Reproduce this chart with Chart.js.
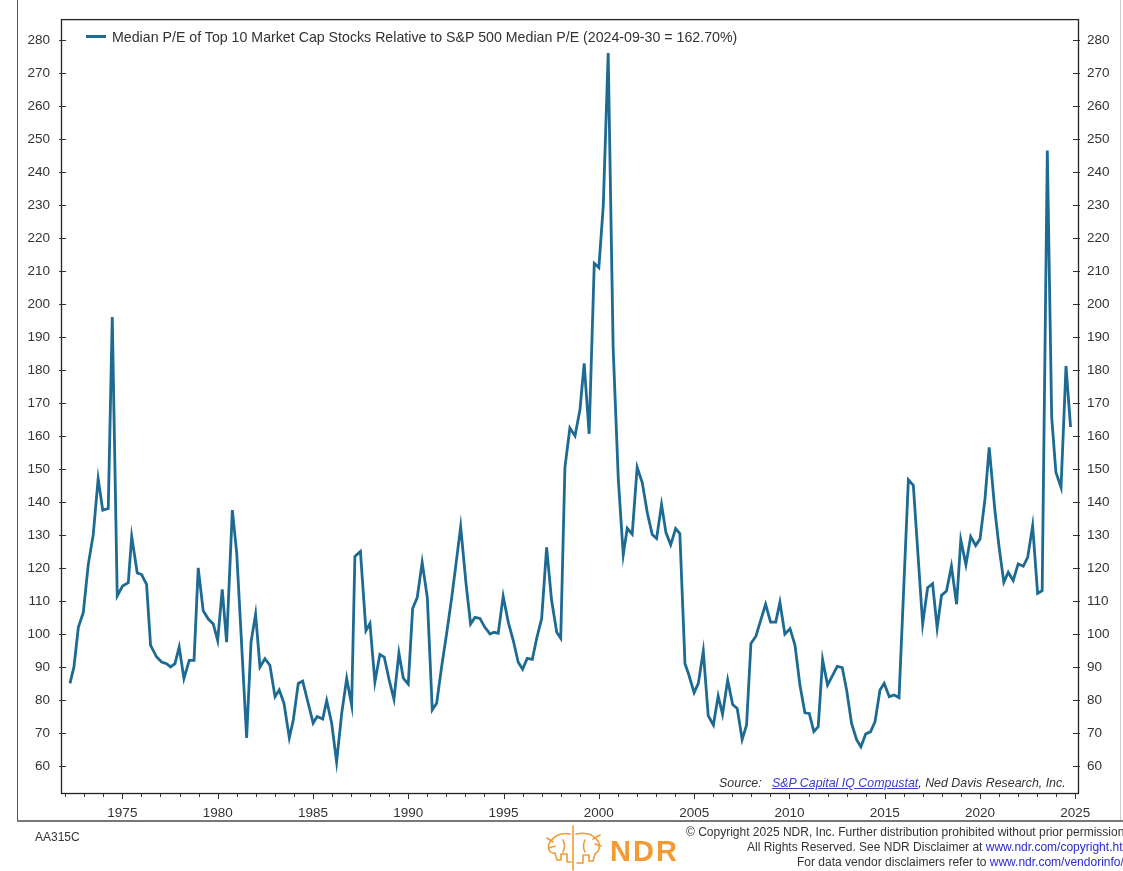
<!DOCTYPE html>
<html>
<head>
<meta charset="utf-8">
<script src="https://cdn.jsdelivr.net/npm/chart.js@4.4.1/dist/chart.umd.min.js"></script>
<style>
    body { margin: 0; background: #fff; width: 1123px; height: 871px; overflow: hidden; position: relative; font-family: 'Liberation Sans', Arial, sans-serif; color: #333; }
    #wrap { position: absolute; left: 0; top: 0; width: 1123px; height: 871px; }
    .abs { position: absolute; white-space: nowrap; }
    .legend { left: 86px; top: 29px; font-size: 14.2px; color: #333; }
    .legend i { display: inline-block; width: 20px; height: 3px; background: #1d6a92; vertical-align: middle; margin-right: 6px; position: relative; top: -2px; }
    .source { left: 719px; top: 776px; font-size: 12.4px; font-style: italic; color: #333; }
    .source a { color: #3a3ad0; text-decoration: underline; }
    .foot { font-size: 12px; color: #333; }
    .foot a { color: #2a2ad0; text-decoration: none; }
    .ndr { left: 610px; top: 835px; font-weight: bold; font-size: 29px; color: #f39a33; letter-spacing: 2px; }
</style>
</head>
<body>
<div id="wrap"><canvas id="chart" width="1123" height="871"></canvas></div>

<!-- outer panel lines -->
<div class="abs" style="left:17px;top:0;width:1px;height:820px;background:#555;"></div>
<div class="abs" style="left:17px;top:820px;width:1106px;height:2px;background:#777;"></div>
<div class="abs" style="left:1120px;top:0;width:1px;height:820px;background:#ccc;"></div>

<div class="abs legend"><i></i>Median P/E of Top 10 Market Cap Stocks Relative to S&amp;P 500 Median P/E (2024-09-30 = 162.70%)</div>
<div class="abs source">Source:&nbsp;&nbsp;&nbsp;<a>S&amp;P Capital IQ Compustat</a>, Ned Davis Research, Inc.</div>

<div class="abs foot" style="left:35px;top:830px;">AA315C</div>
<div class="abs foot" style="left:686px;top:825px;">© Copyright 2025 NDR, Inc. Further distribution prohibited without prior permission.</div>
<div class="abs foot" style="left:747px;top:840px;">All Rights Reserved. See NDR Disclaimer at <a>www.ndr.com/copyright.html</a></div>
<div class="abs foot" style="left:797px;top:855px;">For data vendor disclaimers refer to <a>www.ndr.com/vendorinfo/</a></div>

<!-- NDR logo -->
<svg class="abs" style="left:543px;top:824px;" width="62" height="47" viewBox="0 0 62 47">
    <g fill="none" stroke="#f39a33" stroke-width="1.6" stroke-linejoin="round" stroke-linecap="round">
        <path d="M30 2 L30 46"/>
        <path d="M27 10 C18 8 10 12 6 20 C4 26 8 30 12 29 L14 36 L18 36 L18 30 L24 30 L24 38 L28 38"/>
        <path d="M10 18 L4 14 M12 22 L6 24 M20 16 C22 20 22 24 20 28"/>
        <path d="M33 10 C42 8 50 10 55 17 C58 22 56 28 52 30 L50 37 L46 37 L46 31 L40 31 L40 39 L34 39"/>
        <path d="M50 15 L57 11 M52 20 L58 22 M42 16 C40 20 40 24 42 28"/>
    </g>
</svg>
<div class="abs ndr">NDR</div>

<script>
// quarterly readings (decimal year) and values
const years = [
    1972.25, 1972.46, 1972.69, 1972.95, 1973.21, 1973.47, 1973.73, 1973.97, 1974.26, 1974.47,
    1974.73, 1975.01, 1975.31, 1975.49, 1975.78, 1976.01, 1976.27, 1976.48, 1976.80, 1977.06,
    1977.32, 1977.53, 1977.76, 1977.98, 1978.23, 1978.51, 1978.76, 1978.98, 1979.24, 1979.51,
    1979.77, 1980.00, 1980.24, 1980.47, 1980.77, 1981.00, 1981.52, 1981.75, 1981.99, 1982.22,
    1982.48, 1982.74, 1983.01, 1983.23, 1983.48, 1983.76, 1983.97, 1984.23, 1984.46, 1984.75,
    1985.01, 1985.22, 1985.51, 1985.72, 1985.98, 1986.24, 1986.51, 1986.77, 1987.03, 1987.20,
    1987.49, 1987.78, 1987.99, 1988.25, 1988.51, 1988.74, 1989.00, 1989.25, 1989.51, 1989.74,
    1990.00, 1990.23, 1990.47, 1990.73, 1991.00, 1991.26, 1991.49, 1991.75, 1992.01, 1992.28,
    1992.50, 1992.75, 1993.03, 1993.27, 1993.50, 1993.76, 1994.02, 1994.29, 1994.50, 1994.72,
    1994.98, 1995.25, 1995.51, 1995.77, 1996.00, 1996.24, 1996.51, 1996.74, 1997.00, 1997.26,
    1997.52, 1997.79, 1998.00, 1998.22, 1998.48, 1998.75, 1999.01, 1999.23, 1999.49, 1999.76,
    2000.00, 2000.23, 2000.49, 2000.75, 2001.02, 2001.28, 2001.49, 2001.75, 2002.01, 2002.28,
    2002.54, 2002.80, 2003.03, 2003.29, 2003.52, 2003.77, 2004.03, 2004.25, 2004.52, 2004.70,
    2005.00, 2005.22, 2005.48, 2005.74, 2006.01, 2006.26, 2006.49, 2006.76, 2007.02, 2007.26,
    2007.52, 2007.75, 2007.98, 2008.24, 2008.49, 2008.75, 2009.01, 2009.28, 2009.50, 2009.76,
    2010.03, 2010.29, 2010.55, 2010.81, 2011.04, 2011.28, 2011.51, 2011.74, 2012.00, 2012.27,
    2012.51, 2012.77, 2013.00, 2013.26, 2013.53, 2013.75, 2014.00, 2014.26, 2014.49, 2014.75,
    2014.97, 2015.24, 2015.50, 2015.75, 2016.24, 2016.50, 2016.99, 2017.25, 2017.51,
    2017.75, 2017.98, 2018.24, 2018.50, 2018.77, 2018.99, 2019.26, 2019.51, 2019.77, 2020.00,
    2020.26, 2020.48, 2020.78, 2021.01, 2021.25, 2021.48, 2021.74, 2022.00, 2022.27, 2022.50,
    2022.76, 2023.02, 2023.26, 2023.53, 2023.76, 2023.98, 2024.25, 2024.51, 2024.75
];
const ratioValues = [
    85, 90, 102, 106.5, 121, 130, 147, 137.5, 138, 196,
    111.5, 114.5, 115.5, 129.5, 118.5, 118, 115, 96.5, 93, 91.5,
    91, 90, 91, 96, 86.5, 92, 92, 120, 107, 104.5,
    103, 98, 113.5, 97.5, 137.5, 124.5, 68.5, 97.5, 106, 90,
    92.5, 90.5, 81, 83, 79, 68.5, 74, 85, 85.7, 79,
    73, 75, 74.2, 79.8, 73, 61.2, 76, 86.5, 78.4, 123.5,
    125, 101, 103.2, 85.4, 93.8, 93, 86, 80.2, 94.2, 86.6,
    84.8, 107.7, 111, 121.7, 111, 77, 79, 90, 100, 111,
    121, 132.5, 115.3, 103, 105, 104.7, 102, 100, 100.5, 100.2,
    111.4, 103.5, 98, 91.4, 89.3, 92.6, 92.3, 98.7, 104.7, 126.2,
    110.2, 100.5, 98.7, 150.5, 162.4, 160, 168, 182, 160.6, 212.3,
    211, 229.5, 276, 186.6, 147, 124, 132, 130.2, 150.5, 145.8,
    136.8, 130.1, 128.9, 139.2, 130.7, 127, 131.9, 130.4, 91, 88,
    82.2, 85, 94.8, 75.2, 72.4, 81.2, 75.7, 86, 78.6, 77.4,
    68, 72.4, 97.1, 99.3, 104.1, 109, 103.6, 103.6, 109.6, 99.9,
    101.6, 96.6, 84.5, 76.1, 75.9, 70.4, 71.9, 92.2, 84.5, 87.5,
    90.2, 89.8, 83, 72.9, 67.9, 65.8, 69.7, 70.4, 73.4, 83,
    85, 81, 81.5, 80.7, 146.7, 145, 103, 114, 115.2,
    101.8, 111.7, 113, 120.5, 109, 128.5, 121, 129.5, 126.8, 128.8,
    140.9, 156.5, 137.4, 125.8, 115.7, 118.7, 116.2, 121.2, 120.5, 123.2,
    132.8, 112.3, 113.1, 246.5, 165.6, 149, 144.4, 181.2, 162.7
];
const yTicks = [60, 70, 80, 90, 100, 110, 120, 130, 140, 150, 160, 170, 180, 190, 200, 210, 220, 230, 240, 250, 260, 270, 280];
const xLabelYears = [1975, 1980, 1985, 1990, 1995, 2000, 2005, 2010, 2015, 2020, 2025];
const firstTickYear = 1972;
const lastTickYear = 2025;

const lineColor = '#1d6a92';

// frame around the plot plus small inward ticks like the original
const frameTicks = {
    id: 'frameTicks',
    afterDatasetsDraw(chart) {
        const { ctx, chartArea: a, scales } = chart;
        ctx.save();
        ctx.strokeStyle = '#222';
        ctx.lineWidth = 1.3;
        ctx.strokeRect(a.left + 0.5, a.top + 0.5, a.right - a.left, a.bottom - a.top);
        ctx.lineWidth = 1;
        ctx.strokeStyle = '#333';
        ctx.beginPath();
        yTicks.forEach(v => {
            const y = Math.round(scales.y.getPixelForValue(v)) + 0.5;
            ctx.moveTo(a.left - 2, y); ctx.lineTo(a.left + 5, y);
            ctx.moveTo(a.right - 5, y); ctx.lineTo(a.right + 2, y);
        });
        for (let yr = firstTickYear; yr <= lastTickYear; yr++) {
            const x = Math.round(scales.x.getPixelForValue(yr)) + 0.5;
            ctx.moveTo(x, a.bottom); ctx.lineTo(x, a.bottom + (yr % 5 === 0 ? 6 : 4));
        }
        ctx.stroke();
        ctx.restore();
    }
};

Chart.defaults.font.family = "'Liberation Sans', Arial, sans-serif";
Chart.defaults.font.size = 13.5;
Chart.defaults.color = '#333';

const points = years.map((yr, i) => ({ x: yr, y: ratioValues[i] }));

const yScale = (pos, width, pad) => ({
    type: 'linear',
    position: pos,
    min: 51.8,
    max: 286.3,
    grid: { display: false, drawTicks: false },
    border: { display: false },
    afterBuildTicks: s => { s.ticks = yTicks.map(v => ({ value: v })); },
    afterFit: s => { s.width = width; },
    ticks: { padding: pad, callback: v => String(v) }
});

new Chart(document.getElementById('chart'), {
    type: 'line',
    data: {
        datasets: [{
            label: 'Median P/E of Top 10 Market Cap Stocks Relative to S&P 500 Median P/E',
            data: points,
            borderColor: lineColor,
            borderWidth: 2.8,
            pointRadius: 0,
            tension: 0,
            fill: false
        }]
    },
    options: {
        responsive: false,
        animation: false,
        devicePixelRatio: 1,
        layout: { padding: { top: 17, left: 0, right: 0, bottom: 0 } },
        plugins: { legend: { display: false }, tooltip: { enabled: false } },
        scales: {
            x: {
                type: 'linear',
                min: 1971.78,
                max: 2025.14,
                grid: { display: false, drawTicks: false },
                border: { display: false },
                afterBuildTicks: s => { s.ticks = xLabelYears.map(v => ({ value: v })); },
                afterFit: s => { s.height = 78; },
                ticks: { padding: 12, autoSkip: false, maxRotation: 0, callback: v => String(v) }
            },
            y: yScale('left', 61, 11),
            y2: yScale('right', 45, 9)
        }
    },
    plugins: [frameTicks]
});
</script>
</body>
</html>
